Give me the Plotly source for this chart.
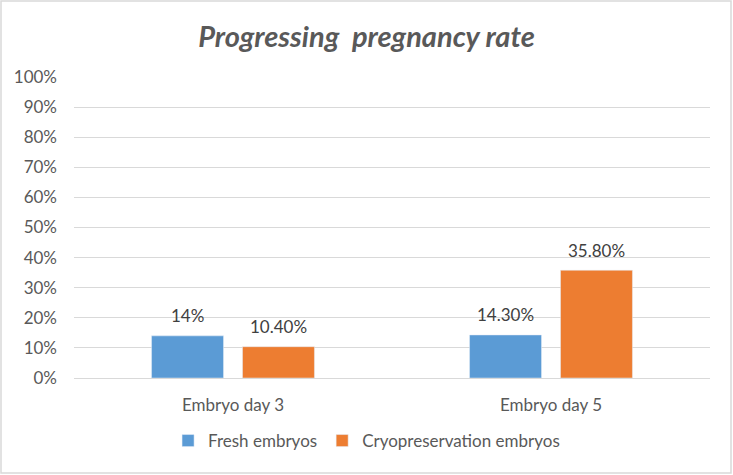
import plotly.graph_objects as go

categories = ["Embryo day 3", "Embryo day 5"]
fresh = [0.14, 0.143]
cryo = [0.104, 0.358]
fresh_labels = ["14%", "14.30%"]
cryo_labels = ["10.40%", "35.80%"]
tick_vals = [i / 10 for i in range(11)]
tick_text = [f"{i*10}%" for i in range(11)]

FONT = "Lato"
FS = 17
L, R, T, B = 74, 23, 77, 97
W, H = 733, 475
pw, ph = W - L - R, H - T - B
BARGAP, GROUPGAP = 0.428, 0.209

fig = go.Figure()
fig.add_trace(go.Bar(name="Fresh embryos", x=categories, y=fresh, marker_color="#5B9BD5"))
fig.add_trace(go.Bar(name="Cryopreservation embryos", x=categories, y=cryo, marker_color="#ED7D31"))

# data labels, centred above each bar
slot_px = pw / len(categories) * (1 - BARGAP) / 2
for vals, labs, side in ((fresh, fresh_labels, -1), (cryo, cryo_labels, 1)):
    for c, v, t in zip(categories, vals, labs):
        fig.add_annotation(x=c, y=v, xref="x", yref="y", text=t, showarrow=False,
                           xshift=side * slot_px / 2, yshift=20, yanchor="middle",
                           font=dict(color="#404040", size=FS, family=FONT))

fig.update_layout(
    width=W, height=H,
    margin=dict(l=L, r=R, t=T, b=B),
    paper_bgcolor="white", plot_bgcolor="white",
    barmode="group", bargap=BARGAP, bargroupgap=GROUPGAP,
    font=dict(family=FONT, color="#595959", size=FS),
    title=dict(text="<b><i>Progressing  pregnancy rate</i></b>", x=0.5, xanchor="center",
               y=1 - 37 / H, yanchor="middle",
               font=dict(size=29, color="#595959", family=FONT)),
    xaxis=dict(showline=True, linecolor="#d9d9d9", linewidth=1, ticks="",
               tickfont=dict(size=FS, color="#595959"), ticklabelstandoff=12),
    yaxis=dict(range=[0, 1], tickvals=tick_vals, ticktext=tick_text, showgrid=True,
               gridcolor="#d9d9d9", gridwidth=1, zeroline=False, ticks="",
               tickfont=dict(size=FS, color="#595959"), ticklabelstandoff=16),
    legend=dict(orientation="h", x=0.46, xanchor="center", y=-(441 - 378) / ph, yanchor="middle",
                font=dict(size=FS, color="#595959"), itemwidth=30, traceorder="normal"),
    showlegend=True,
)
fig.add_shape(type="rect", xref="paper", yref="paper",
              x0=-(L - 1) / pw, x1=1 + (R - 2) / pw, y0=-(B - 2) / ph, y1=1 + (T - 1) / ph,
              line=dict(color="#d9d9d9", width=1.5))
fig.write_html("out.html", config={"displayModeBar": False},
               post_script="document.body.style.margin='0';")
